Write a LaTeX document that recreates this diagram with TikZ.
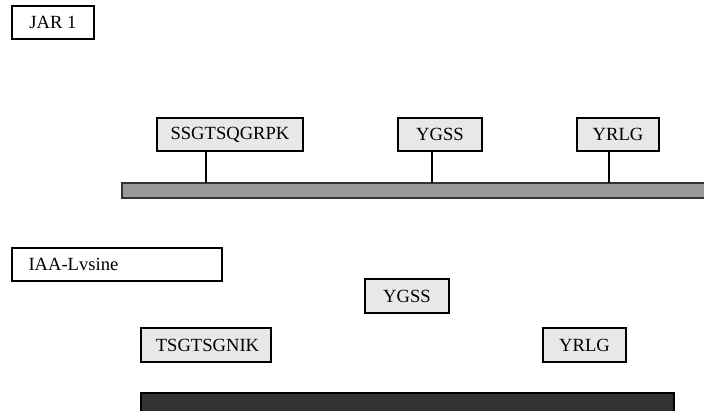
\documentclass[tikz,border=0pt]{standalone}
\usepackage{fontspec}
\setmainfont{Liberation Serif}
\begin{document}
\begin{tikzpicture}[x=1pt,y=-1pt,
  every node/.style={inner sep=0pt, outer sep=0pt, font=\fontsize{18.6}{20}\selectfont},
  label box/.style={draw=black, line width=1.1pt, fill=white, anchor=north west},
  pep box/.style={draw=black, line width=1.1pt, fill=gray!18, anchor=north west},
  bar light/.style={draw=black!80, line width=1.3pt, fill=black!40, anchor=north west},
  bar dark/.style={draw=black, line width=1.3pt, fill=black!80, anchor=north west},
  link/.style={draw=black, line width=1.1pt}]
\useasboundingbox (0,0) rectangle (704,410);
% top group
\node[label box, minimum width=82pt, minimum height=33pt] (jar) at (12,6) {JAR 1};
\node[bar light, minimum width=600pt, minimum height=15pt] (bar1) at (122,183) {};
\node[pep box, minimum width=146pt, minimum height=33pt] (p1) at (157,118) {SSGTSQGRPK};
\node[pep box, minimum width=84pt, minimum height=33pt] (p2) at (398,118) {YGSS};
\node[pep box, minimum width=82pt, minimum height=33pt] (p3) at (577,118) {YRLG};
\coordinate (c1) at (206,183);
\coordinate (c2) at (432,183);
\coordinate (c3) at (609,183);
\draw[link] (c1 |- p1.south) -- (c1);
\draw[link] (c2 |- p2.south) -- (c2);
\draw[link] (c3 |- p3.south) -- (c3);
% bottom group
\node[label box, minimum width=210pt, minimum height=33pt, text width=199pt, align=left, inner xsep=0pt] (iaa) at (12,248) {\hspace*{11pt}IAA-Lvsine};
\node[pep box, minimum width=84pt, minimum height=34pt] (q2) at (365,279) {YGSS};
\node[pep box, minimum width=130pt, minimum height=34pt] (q1) at (141,328) {\hspace*{3pt}TSGTSGNIK};
\node[pep box, minimum width=83pt, minimum height=34pt] (q3) at (543,328) {YRLG};
\node[bar dark, minimum width=533pt, minimum height=30pt] (bar2) at (141,393) {};
\end{tikzpicture}
\end{document}
